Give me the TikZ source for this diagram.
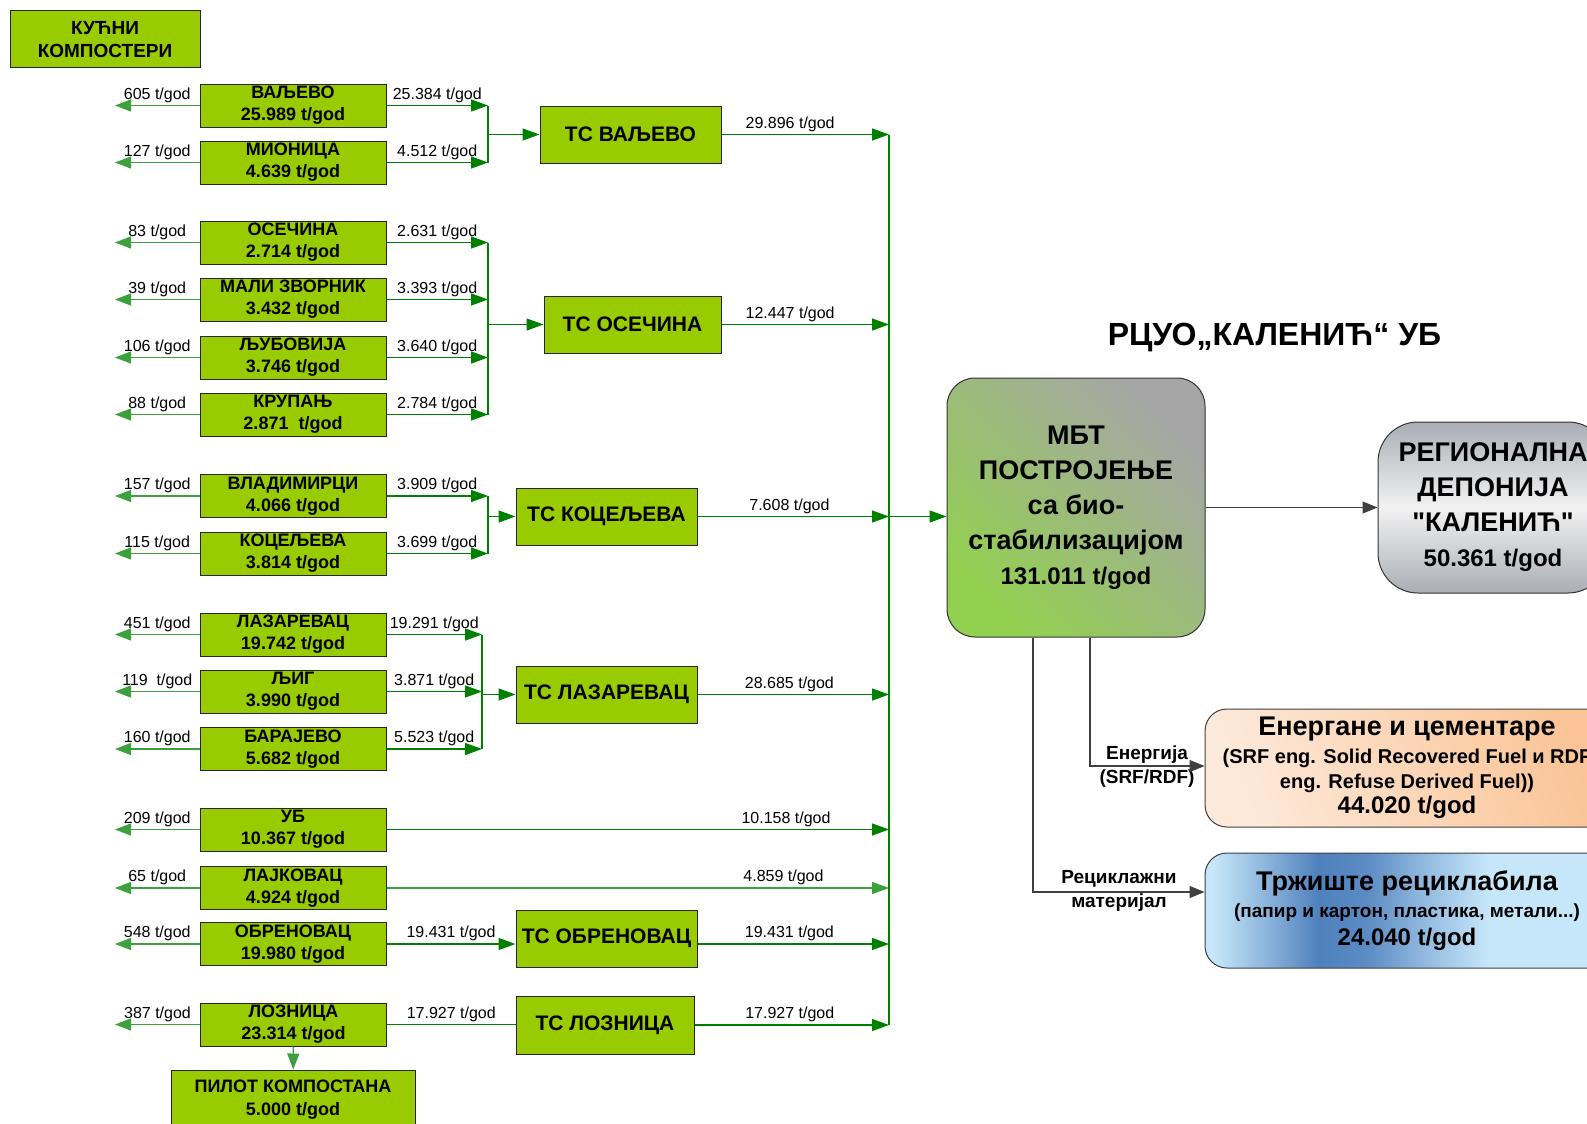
\documentclass[tikz,border=0pt]{standalone}
\usepackage{fontspec}
\setmainfont{Liberation Sans}[Ligatures=TeXOff]
\usetikzlibrary{arrows.meta}
\definecolor{boxgreen}{RGB}{153,204,0}
\definecolor{flowgreen}{RGB}{0,128,0}
\definecolor{backgreen}{RGB}{60,160,60}
\definecolor{mbtgreen}{RGB}{146,208,80}
\definecolor{mbtgray}{RGB}{166,166,166}
\definecolor{depgray}{RGB}{170,174,181}
\definecolor{depwhite}{RGB}{242,242,242}
\definecolor{peach}{RGB}{253,233,217}
\definecolor{apricot}{RGB}{250,196,150}
\definecolor{recdark}{RGB}{79,129,189}
\definecolor{reclight}{RGB}{198,231,250}
\pgfdeclarehorizontalshading{recshade}{100bp}{color(0bp)=(reclight);color(26bp)=(reclight);color(34bp)=(recdark!60!reclight);color(39bp)=(recdark);color(45bp)=(recdark!90!reclight);color(52bp)=(recdark!45!reclight);color(60bp)=(reclight);color(100bp)=(reclight)}

\begin{document}
\begin{tikzpicture}
[x=1pt,y=-1pt,%
  every node/.style={inner sep=0pt,align=center},%
  src/.style={rectangle,draw=black!85,line width=1pt,fill=boxgreen,minimum width=186pt,minimum height=43pt,font=\fontsize{18}{22}\selectfont\bfseries},%
  ts/.style={src,minimum width=181pt,minimum height=57pt,font=\fontsize{21}{25}\selectfont\bfseries},%
  lbl/.style={font=\fontsize{16}{19}\selectfont,inner sep=2.5pt},%
  fwdarr/.style={draw=flowgreen,line width=1.3pt,-{Triangle[length=17pt,width=12pt]}},%
  backarr/.style={draw=backgreen,line width=1.3pt,-{Triangle[length=16pt,width=12pt]}},%
  busline/.style={draw=flowgreen,line width=1.3pt},%
  blkarr/.style={draw=black!75,line width=1.2pt,-{Triangle[length=15pt,width=12pt]}},%
  sidelbl/.style={font=\fontsize{19}{24}\selectfont\bfseries}]
\useasboundingbox (0,0) rectangle (1587,1124);
\coordinate (leftend) at (115,0);
\coordinate (colA) at (488,0);
\coordinate (colB) at (482,0);
\coordinate (bus) at (889,0);

\node[src,minimum width=190pt,minimum height=57pt,font=\fontsize{19}{22.5}\selectfont\bfseries] (kucni) at (105,39.5) {КУЋНИ\\КОМПОСТЕРИ};
\node[src] (valjevo) at (293,105.5) {ВАЉЕВО\\25.989 t/god};
\node[src] (mionica) at (293,162.5) {МИОНИЦА\\4.639 t/god};
\node[src] (osecina) at (293,242.5) {ОСЕЧИНА\\2.714 t/god};
\node[src] (zvornik) at (293,299.5) {МАЛИ ЗВОРНИК\\3.432 t/god};
\node[src] (ljubovija) at (293,357.5) {ЉУБОВИЈА\\3.746 t/god};
\node[src] (krupanj) at (293,414.5) {КРУПАЊ\\2.871\ \ t/god};
\node[src] (vladimirci) at (293,496) {ВЛАДИМИРЦИ\\4.066 t/god};
\node[src] (koceljeva) at (293,553.5) {КОЦЕЉЕВА\\3.814 t/god};
\node[src] (lazarevac) at (293,634.5) {ЛАЗАРЕВАЦ\\19.742 t/god};
\node[src] (ljig) at (293,691.5) {ЉИГ\\3.990 t/god};
\node[src] (barajevo) at (293,749) {БАРАЈЕВО\\5.682 t/god};
\node[src] (ub) at (293,829.5) {УБ\\10.367 t/god};
\node[src] (lajkovac) at (293,888) {ЛАЈКОВАЦ\\4.924 t/god};
\node[src] (obrenovac) at (293,944) {ОБРЕНОВАЦ\\19.980 t/god};
\node[src] (loznica) at (293.5,1024.5) {ЛОЗНИЦА\\23.314 t/god};
\node[src,minimum width=244pt,minimum height=60pt,font=\fontsize{18}{23}\selectfont\bfseries] (pilot) at (293,1100) {ПИЛОТ КОМПОСТАНА\\5.000 t/god};

\node[ts] (tsvaljevo) at (630.5,134.5) {ТС ВАЉЕВО};
\node[ts,minimum width=177pt] (tsosecina) at (632.5,324.5) {ТС ОСЕЧИНА};
\node[ts] (tskoceljeva) at (606.5,516.5) {ТС КОЦЕЉЕВА};
\node[ts] (tslazarevac) at (606.5,694.5) {ТС ЛАЗАРЕВАЦ};
\node[ts] (tsobrenovac) at (606.5,938.5) {ТС ОБРЕНОВАЦ};
\node[ts,minimum width=178pt,minimum height=58pt] (tsloznica) at (605,1025) {ТС ЛОЗНИЦА};

\node[font=\fontsize{32}{38}\selectfont\bfseries] (title) at (1274.5,338) {РЦУО„КАЛЕНИЋ“ УБ};
\node[draw=black!80,line width=1pt,rounded corners=28pt,minimum width=258pt,minimum height=259pt,left color=mbtgreen,right color=mbtgray,shading angle=135,font=\fontsize{27}{35}\selectfont\bfseries] (mbt) at (1076,507.5) {МБТ\\ПОСТРОЈЕЊЕ\\са био-\\стабилизацијом\\{\fontsize{24}{35}\selectfont 131.011 t/god}};
\node[draw=black!80,line width=1pt,rounded corners=40pt,minimum width=230pt,minimum height=171pt,top color=depgray,bottom color=depgray,middle color=depwhite,font=\fontsize{27}{35}\selectfont\bfseries] (deponija) at (1493,507.5) {РЕГИОНАЛНА\\ДЕПОНИЈА\\"КАЛЕНИЋ"\\{\fontsize{24}{35}\selectfont 50.361 t/god}};
\node[draw=black!75,line width=1pt,rounded corners=22pt,minimum width=404pt,minimum height=118pt,left color=peach,right color=apricot,shading angle=110,font=\fontsize{20}{25}\selectfont\bfseries] (energane) at (1407,768) {{\fontsize{27}{30}\selectfont Енергане и цементаре}\\[3pt](SRF eng. Solid Recovered Fuel и RDF\\eng. Refuse Derived Fuel))\\{\fontsize{24}{25}\selectfont 44.020 t/god}};
\node[draw=black!75,line width=1pt,rounded corners=22pt,minimum width=404pt,minimum height=115pt,shading=recshade,font=\fontsize{19}{27.5}\selectfont\bfseries] (trziste) at (1407,910.5) {{\fontsize{27}{30}\selectfont Тржиште рециклабила}\\(папир и картон, пластика, метали...)\\{\fontsize{24}{27.5}\selectfont 24.040 t/god}};
\node[sidelbl] (energija) at (1147,767) {Енергија\\(SRF/RDF)};
\node[sidelbl] (reciklazni) at (1119,890.5) {Рециклажни\\материјал};

\path
(valjevo) edge[backarr] node[lbl,above] {605 t/god} (valjevo -| leftend)
(mionica) edge[backarr] node[lbl,above] {127 t/god} (mionica -| leftend)
(osecina) edge[backarr] node[lbl,above] {83 t/god} (osecina -| leftend)
(zvornik) edge[backarr] node[lbl,above] {39 t/god} (zvornik -| leftend)
(ljubovija) edge[backarr] node[lbl,above] {106 t/god} (ljubovija -| leftend)
(krupanj) edge[backarr] node[lbl,above] {88 t/god} (krupanj -| leftend)
(vladimirci) edge[backarr] node[lbl,above] {157 t/god} (vladimirci -| leftend)
(koceljeva) edge[backarr] node[lbl,above] {115 t/god} (koceljeva -| leftend)
(lazarevac) edge[backarr] node[lbl,above] {451 t/god} (lazarevac -| leftend)
(ljig) edge[backarr] node[lbl,above] {119\ \ t/god} (ljig -| leftend)
(barajevo) edge[backarr] node[lbl,above] {160 t/god} (barajevo -| leftend)
(ub) edge[backarr] node[lbl,above] {209 t/god} (ub -| leftend)
(lajkovac) edge[backarr] node[lbl,above] {65 t/god} (lajkovac -| leftend)
(obrenovac) edge[backarr] node[lbl,above] {548 t/god} (obrenovac -| leftend)
(loznica) edge[backarr] node[lbl,above] {387 t/god} (loznica -| leftend)
(loznica) edge[backarr] (pilot);

\path
(valjevo) edge[fwdarr] node[lbl,above] {25.384 t/god} (valjevo -| colA)
(mionica) edge[fwdarr] node[lbl,above] {4.512 t/god} (mionica -| colA)
(osecina) edge[fwdarr] node[lbl,above] {2.631 t/god} (osecina -| colA)
(zvornik) edge[fwdarr] node[lbl,above] {3.393 t/god} (zvornik -| colA)
(ljubovija) edge[fwdarr] node[lbl,above] {3.640 t/god} (ljubovija -| colA)
(krupanj) edge[fwdarr] node[lbl,above] {2.784 t/god} (krupanj -| colA)
(vladimirci) edge[fwdarr] node[lbl,above] {3.909 t/god} (vladimirci -| colA)
(koceljeva) edge[fwdarr] node[lbl,above] {3.699 t/god} (koceljeva -| colA)
(lazarevac) edge[fwdarr] node[lbl,above] {19.291 t/god} (lazarevac -| colB)
(ljig) edge[fwdarr] node[lbl,above] {3.871 t/god} (ljig -| colB)
(barajevo) edge[fwdarr] node[lbl,above] {5.523 t/god} (barajevo -| colB)
(obrenovac) edge[fwdarr] node[lbl,above] {19.431 t/god} (obrenovac -| tsobrenovac.west)
(loznica) edge[busline] node[lbl,above] {17.927 t/god} (loznica -| tsloznica.west);

\draw[busline] (valjevo -| colA) -- (mionica -| colA);
\draw[busline] (osecina -| colA) -- (krupanj -| colA);
\draw[busline] (vladimirci -| colA) -- (koceljeva -| colA);
\draw[busline] (lazarevac -| colB) -- (barajevo -| colB);
\path
(tsvaljevo -| colA) edge[fwdarr] (tsvaljevo)
(tsosecina -| colA) edge[fwdarr] (tsosecina)
(tskoceljeva -| colA) edge[fwdarr] (tskoceljeva)
(tslazarevac -| colB) edge[fwdarr] (tslazarevac);

\draw[busline] (tsvaljevo -| bus) -- (tsloznica -| bus);
\path
(tsvaljevo) edge[fwdarr] node[lbl,above,pos=0.41] {29.896 t/god} (tsvaljevo -| bus)
(tsosecina) edge[fwdarr] node[lbl,above,pos=0.41] {12.447 t/god} (tsosecina -| bus)
(tskoceljeva) edge[fwdarr] node[lbl,above,pos=0.48] {7.608 t/god} (tskoceljeva -| bus)
(tslazarevac) edge[fwdarr] node[lbl,above,pos=0.48] {28.685 t/god} (tslazarevac -| bus)
(ub) edge[fwdarr] node[lbl,above,pos=0.795] {10.158 t/god} (ub -| bus)
(lajkovac) edge[fwdarr,draw=backgreen] node[lbl,above,pos=0.79] {4.859 t/god} (lajkovac -| bus)
(obrenovac -| tsobrenovac.east) edge[fwdarr] node[lbl,above,pos=0.48] {19.431 t/god} (obrenovac -| bus)
(tsloznica) edge[fwdarr] node[lbl,above,pos=0.49] {17.927 t/god} (tsloznica -| bus)
(tskoceljeva -| bus) edge[fwdarr] (tskoceljeva -| mbt.west);

\path
(mbt) edge[blkarr] (deponija);
\draw[blkarr] ([xshift=14pt]mbt.south) |- ([yshift=2pt]energane.west);
\draw[blkarr] ([xshift=-43pt]mbt.south) |- ([yshift=18.5pt]trziste.west);
\end{tikzpicture}
\end{document}
